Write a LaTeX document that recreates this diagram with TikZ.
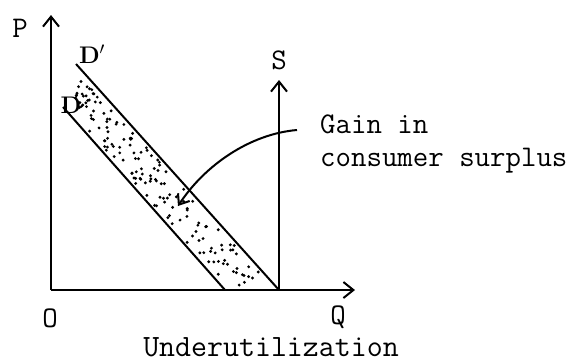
\documentclass[tikz,border=0pt]{standalone}
\usetikzlibrary{arrows.meta}
\begin{document}
\begin{tikzpicture}[x=1pt,y=-1pt,
  axis/.style={line width=2pt,-{Straight Barb[length=10pt,width=16pt,line width=2pt]}},
  curve/.style={line width=2pt},
  arr/.style={line width=2pt,-{Straight Barb[length=9pt,width=14pt,line width=2pt]}},
  lbl/.style={font=\fontsize{30}{34}\selectfont\ttfamily,inner sep=0pt},
  hand/.style={font=\fontsize{24}{28}\selectfont\bfseries,inner sep=0pt}]
\useasboundingbox (0,0) rectangle (577,362);
% axes
\coordinate (O) at (51,290);
\coordinate (Ptip) at (51,15);
\coordinate (Qtip) at (355,290);
\coordinate (Sbase) at (279,290);
\coordinate (Stip) at (279,80);
% demand lines
\coordinate (D1a) at (63,107);
\coordinate (D1b) at (225,290);
\coordinate (D2a) at (76,64);
\coordinate (D2b) at (279,290);
% stipple
\pgfmathsetseed{23}
\foreach \i in {1,...,150}{
  \pgfmathsetmacro\t{0.03+0.95*rnd}
  \pgfmathsetmacro\s{0.08+0.84*rnd}
  \pgfmathsetmacro\px{(1-\s)*(63+162*\t)+\s*(76+203*\t)}
  \pgfmathsetmacro\py{(1-\s)*(107+183*\t)+\s*(64+226*\t)}
  \fill (\px,\py) circle (1.6pt);
}
\draw[axis] (O) -- (Ptip);
\draw[axis] (O) -- (Qtip);
\draw[axis] (Sbase) -- (Stip);
\draw[curve] (D1a) -- (D1b);
\draw[curve] (D2a) -- (D2b);
% labels
\node[lbl] (P) at (20,28) {P};
\node[lbl] (Olbl) at (50,318) {O};
\node[lbl] (Q) at (338,317) {Q};
\node[lbl] (S) at (279,60) {S};
\node[hand] (Dp) at (92,54) {D$'$};
\node[hand] (D) at (71,105) {D};
\node[lbl,anchor=base west] (g1) at (320,133) {Gain in};
\node[lbl,anchor=base west] (g2) at (320,166) {consumer surplus};
\node[lbl,font=\fontsize{31}{34}\selectfont\ttfamily,anchor=base] (U) at (271,356) {Underutilization};
% curved arrow
\coordinate (cs) at (297,130);
\coordinate (ce) at (178,206);
\draw[arr] (cs) .. controls (250,134) and (205,165) .. (ce);
\end{tikzpicture}
\end{document}
